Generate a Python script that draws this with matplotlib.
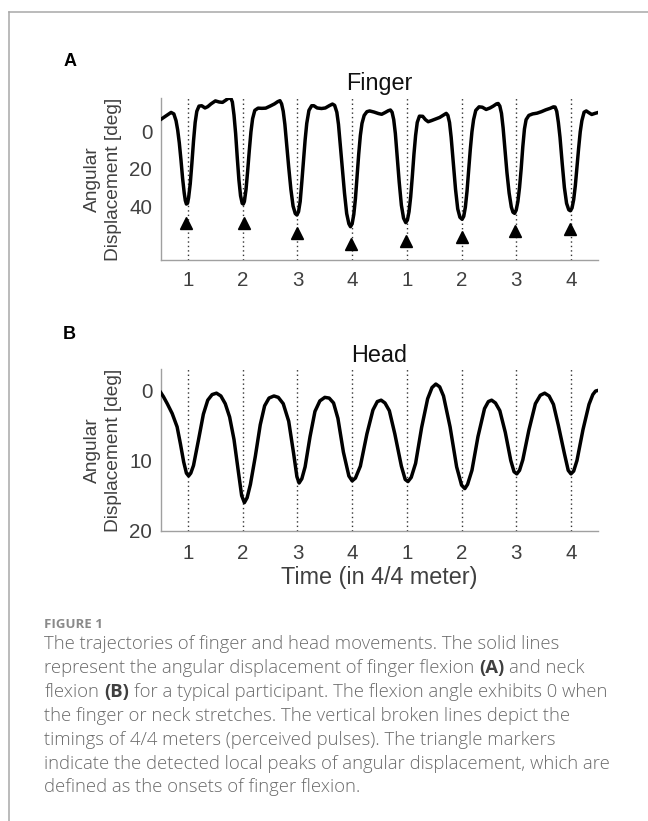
import matplotlib
matplotlib.use("Agg")
import matplotlib.pyplot as plt
from matplotlib.lines import Line2D

plt.rcParams['font.family'] = ['Liberation Sans', 'DejaVu Sans']

# beat grid (4/4 meter, two bars)
beats = [1, 2, 3, 4, 5, 6, 7, 8]
beat_labels = ['1', '2', '3', '4', '1', '2', '3', '4']

# finger flexion angle (deg) vs time in beats
finger_t = [0.50, 0.56, 0.62, 0.69, 0.74, 0.78, 0.81, 0.84, 0.87, 0.90, 0.93, 0.95, 0.97, 0.99,
            1.01, 1.04, 1.07, 1.10, 1.13, 1.16, 1.20, 1.25, 1.31, 1.36, 1.42, 1.50, 1.57, 1.63,
            1.69, 1.75, 1.78, 1.81, 1.84, 1.87, 1.90, 1.93, 1.96, 1.99, 2.01, 2.03, 2.06, 2.09,
            2.12, 2.15, 2.18, 2.22, 2.28, 2.35, 2.42, 2.50, 2.58, 2.64, 2.68, 2.71, 2.74, 2.77,
            2.80, 2.84, 2.88, 2.92, 2.96, 2.99, 3.02, 3.05, 3.08, 3.11, 3.14, 3.17, 3.21, 3.26,
            3.30, 3.36, 3.44, 3.51, 3.58, 3.64, 3.68, 3.72, 3.75, 3.78, 3.82, 3.86, 3.90, 3.94,
            3.97, 4.00, 4.03, 4.06, 4.09, 4.12, 4.15, 4.18, 4.22, 4.27, 4.32, 4.40, 4.48, 4.54,
            4.60, 4.66, 4.70, 4.73, 4.76, 4.79, 4.82, 4.86, 4.90, 4.94, 4.98, 5.01, 5.04, 5.07,
            5.10, 5.13, 5.16, 5.19, 5.23, 5.29, 5.34, 5.39, 5.45, 5.52, 5.60, 5.67, 5.72, 5.75,
            5.78, 5.81, 5.85, 5.89, 5.93, 5.97, 6.01, 6.04, 6.07, 6.10, 6.13, 6.16, 6.19, 6.22,
            6.26, 6.32, 6.38, 6.45, 6.52, 6.58, 6.64, 6.67, 6.70, 6.73, 6.76, 6.79, 6.83, 6.87,
            6.91, 6.94, 6.97, 7.00, 7.03, 7.06, 7.09, 7.12, 7.15, 7.18, 7.23, 7.30, 7.38, 7.46,
            7.54, 7.62, 7.68, 7.71, 7.74, 7.77, 7.80, 7.84, 7.88, 7.92, 7.96, 7.99, 8.02, 8.05,
            8.08, 8.11, 8.14, 8.17, 8.20, 8.24, 8.28, 8.33, 8.38, 8.44, 8.50]
finger_deg = [-6.6, -7.8, -9.0, -10.4, -9.6, -6.0, -1.0, 6.0, 15.0, 25.0, 33.0, 37.0, 38.9, 38.5,
              35.5, 28.0, 17.0, 5.0, -5.0, -11.0, -13.8, -14.0, -12.8, -13.5, -15.0, -16.6, -16.0, -15.8,
              -17.0, -18.3, -18.2, -16.0, -9.0, 1.0, 14.0, 26.0, 34.5, 38.5, 38.9, 37.5, 31.0, 21.0,
              10.0, 0.0, -7.0, -11.5, -12.7, -12.6, -12.7, -13.8, -15.0, -16.2, -16.7, -15.0, -11.0, -4.0,
              6.0, 19.0, 31.0, 40.0, 44.0, 44.8, 43.0, 37.5, 27.0, 15.5, 4.5, -4.5, -11.5, -14.0,
              -14.0, -12.8, -12.5, -12.8, -14.0, -14.9, -14.2, -10.5, -4.0, 6.0, 19.0, 33.0, 44.0, 49.5,
              51.1, 49.5, 44.5, 36.0, 24.0, 12.0, 2.0, -4.5, -8.8, -10.8, -11.2, -10.6, -9.8, -9.4,
              -10.3, -11.3, -11.7, -10.5, -6.5, 1.0, 12.0, 27.0, 39.5, 46.5, 48.9, 47.5, 43.0, 35.0,
              24.0, 12.0, 2.0, -5.0, -8.4, -8.3, -6.5, -5.4, -6.0, -6.8, -7.7, -9.0, -9.9, -8.8,
              -5.0, 3.0, 17.0, 31.0, 41.5, 46.0, 47.1, 45.5, 40.5, 32.0, 21.0, 9.5, 0.0, -6.5,
              -11.5, -13.4, -13.2, -12.0, -12.8, -13.8, -15.0, -15.2, -13.8, -9.9, -2.0, 8.1, 22.0, 33.0,
              40.5, 43.3, 43.9, 42.0, 37.5, 30.0, 20.0, 8.0, -1.5, -6.5, -8.8, -9.6, -10.0, -10.8,
              -11.8, -12.6, -13.4, -13.3, -11.0, -5.0, 3.0, 17.0, 30.0, 38.5, 42.0, 42.5, 41.0, 36.5,
              29.0, 19.0, 9.0, 0.0, -6.0, -10.5, -11.2, -10.2, -9.3, -9.9, -10.4]

# detected flexion onsets (triangle markers)
onset_t = [0.97, 2.03, 2.99, 3.97, 4.98, 6.01, 6.97, 7.99]
onset_deg = [48.9, 48.9, 54.6, 60.5, 58.8, 56.8, 53.4, 52.5]

# neck flexion angle (deg) vs time in beats
head_t = [0.50, 0.55, 0.62, 0.71, 0.80, 0.86, 0.92, 0.97, 1.01, 1.05, 1.10, 1.19, 1.28, 1.36,
          1.44, 1.52, 1.60, 1.68, 1.76, 1.84, 1.92, 1.98, 2.03, 2.08, 2.14, 2.23, 2.32, 2.40,
          2.48, 2.57, 2.65, 2.74, 2.84, 2.93, 2.99, 3.03, 3.08, 3.14, 3.23, 3.32, 3.41, 3.50,
          3.58, 3.66, 3.74, 3.84, 3.94, 4.00, 4.06, 4.15, 4.27, 4.38, 4.46, 4.53, 4.60, 4.68,
          4.78, 4.90, 4.97, 5.02, 5.08, 5.16, 5.27, 5.38, 5.46, 5.53, 5.60, 5.67, 5.79, 5.91,
          6.00, 6.06, 6.11, 6.19, 6.30, 6.42, 6.49, 6.55, 6.62, 6.70, 6.80, 6.90, 6.96, 7.01,
          7.06, 7.12, 7.23, 7.35, 7.44, 7.52, 7.60, 7.68, 7.77, 7.88, 7.95, 8.00, 8.05, 8.11,
          8.22, 8.33, 8.40, 8.45, 8.50]
head_deg = [0.3, 0.9, 1.9, 3.3, 5.2, 7.6, 10.2, 11.8, 12.2, 11.8, 10.7, 7.1, 3.4, 1.4,
            0.6, 0.4, 0.8, 1.9, 3.8, 7.0, 11.6, 15.0, 16.0, 15.3, 13.4, 9.4, 4.9, 2.2,
            1.1, 0.8, 1.0, 1.9, 4.4, 9.0, 12.3, 13.2, 12.6, 10.9, 6.6, 3.0, 1.5, 1.0,
            1.1, 1.8, 4.0, 8.8, 12.2, 12.9, 12.5, 10.8, 6.2, 2.8, 1.6, 1.4, 1.8, 2.9,
            6.2, 10.8, 12.7, 13.0, 12.4, 10.4, 5.3, 1.2, -0.4, -0.9, -0.5, 0.8, 5.2, 10.9,
            13.5, 14.0, 13.4, 11.4, 6.6, 2.6, 1.6, 1.4, 1.8, 2.9, 6.0, 10.0, 11.6, 11.9,
            11.4, 9.9, 5.7, 1.9, 0.7, 0.4, 0.8, 2.0, 5.0, 9.0, 11.4, 11.9, 11.5, 10.0,
            5.6, 2.0, 0.6, 0.1, 0.0]

caption_title = "FIGURE 1"
caption_lines = [
    [("The trajectories of finger and head movements. The solid lines", False)],
    [("represent the angular displacement of finger flexion", False), ("(A)", True), ("and neck", False)],
    [("flexion", False), ("(B)", True), ("for a typical participant. The flexion angle exhibits 0 when", False)],
    [("the finger or neck stretches. The vertical broken lines depict the", False)],
    [("timings of 4/4 meters (perceived pulses). The triangle markers", False)],
    [("indicate the detected local peaks of angular displacement, which are", False)],
    [("defined as the onsets of finger flexion.", False)],
]

W, H = 648, 821


def fx(px):
    return px / W


def fy(py):
    return 1 - py / H


fig = plt.figure(figsize=(W / 100, H / 100), dpi=100)

# page frame
fig.add_artist(Line2D([fx(9), 1], [fy(12.5), fy(12.5)], transform=fig.transFigure,
                      color='#a8a8a8', lw=1.1))
fig.add_artist(Line2D([fx(9), fx(9)], [fy(12.5), 0], transform=fig.transFigure,
                      color='#a8a8a8', lw=1.1))

ax_l, ax_r = 160.7, 598.3
ax1 = fig.add_axes([fx(ax_l), fy(260), (ax_r - ax_l) / W, (260 - 98.3) / H])
ax2 = fig.add_axes([fx(ax_l), fy(530.7), (ax_r - ax_l) / W, (530.7 - 369.3) / H])

tick_col = '#404040'


def style_axes(ax, ylim, yticks, xpad):
    ax.set_xlim(0.5, 8.5)
    ax.set_ylim(*ylim)
    ax.set_xticks(beats)
    ax.set_xticklabels(beat_labels)
    ax.set_yticks(yticks)
    for s in ['top', 'right']:
        ax.spines[s].set_visible(False)
    for s in ['left', 'bottom']:
        ax.spines[s].set_color('#a0a0a0')
        ax.spines[s].set_linewidth(1.0)
    ax.tick_params(length=0, labelsize=14.8, labelcolor=tick_col)
    ax.tick_params(axis='y', pad=6.0)
    ax.tick_params(axis='x', pad=xpad)
    for b in beats:
        ax.axvline(b, color='#333333', lw=1.0, ls=(0, (1, 2.2)), zorder=1)
    ax.text(-0.132, 0.5, 'Angular\nDisplacement [deg]', transform=ax.transAxes,
            rotation=90, ha='center', va='center', multialignment='center',
            fontsize=13.8, color=tick_col, linespacing=1.25)


style_axes(ax1, (69, -18), [0, 20, 40], 8.0)
ax1.plot(finger_t, finger_deg, color='black', lw=2.5, solid_joinstyle='round', zorder=3)
ax1.plot(onset_t, onset_deg, '^', color='black', ms=8, zorder=4, clip_on=False)
ax1.set_title('Finger', fontsize=16.8, pad=6.0, color='#111111')

style_axes(ax2, (20, -3), [0, 10, 20], 9.5)
ax2.plot(head_t, head_deg, color='black', lw=2.5, solid_joinstyle='round', zorder=3)
ax2.set_title('Head', fontsize=16.8, pad=5.5, color='#111111')

fig.text(fx((ax_l + ax_r) / 2), fy(583.5), 'Time (in 4/4 meter)', ha='center', va='baseline',
         fontsize=16.8, color=tick_col)

fig.text(fx(70.5), fy(66), 'A', ha='center', va='baseline', fontsize=13, weight='bold')
fig.text(fx(69.5), fy(339), 'B', ha='center', va='baseline', fontsize=13, weight='bold')

# caption
cap_font = ['Open Sans', 'DejaVu Sans']
cap_size = 13.3
fig.text(fx(44.3), fy(627.7), caption_title, ha='left', va='baseline', fontsize=9.5,
         weight='bold', color='#8a8a8a', family=cap_font)

renderer = fig.canvas.get_renderer()
t1 = fig.text(0, 0, 'x x', fontsize=cap_size, family=cap_font)
t2 = fig.text(0, 0, 'xx', fontsize=cap_size, family=cap_font)
space_w = t1.get_window_extent(renderer).width - t2.get_window_extent(renderer).width
t1.remove()
t2.remove()

base = 649.0
step = 23.9
for i, segs in enumerate(caption_lines):
    x = 44.3
    y = base + i * step
    for j, (txt, bold) in enumerate(segs):
        if j > 0:
            x += space_w
        t = fig.text(fx(x), fy(y), txt, ha='left', va='baseline', fontsize=cap_size,
                     family=cap_font, weight='bold' if bold else 'light',
                     color='#3f3f3f' if bold else '#6a6a6a')
        x += t.get_window_extent(renderer).width

fig.savefig('out.png', dpi=100)
